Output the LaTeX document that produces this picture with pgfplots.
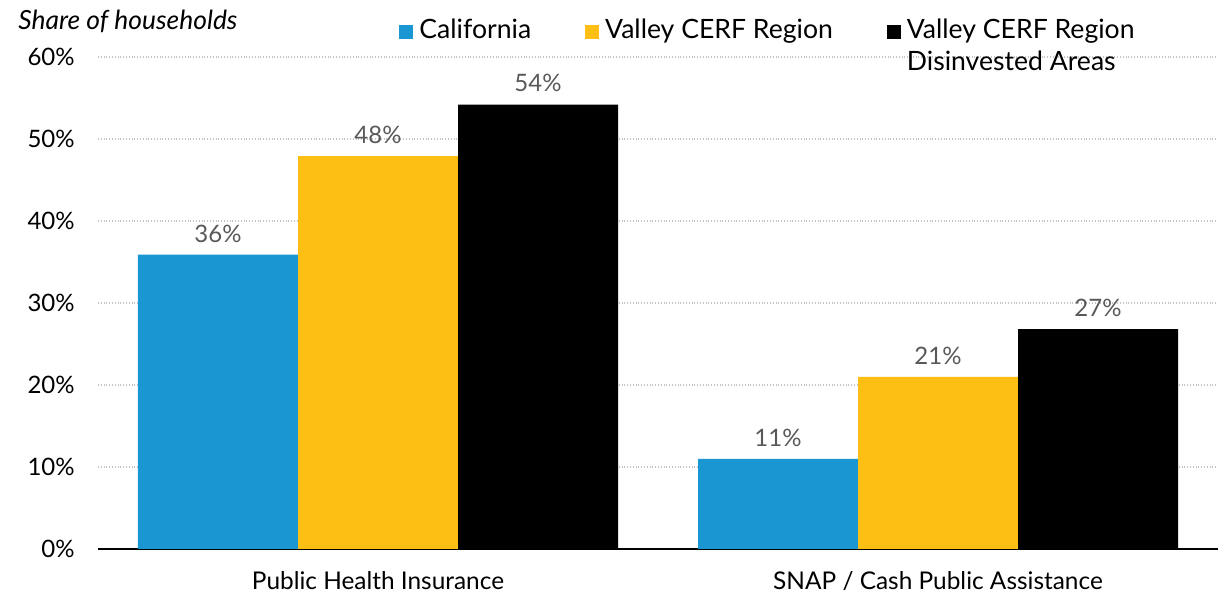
\documentclass[border=0pt]{standalone}
\usepackage{fontspec}
\setmainfont{Lato}
\usepackage{pgfplots}
\pgfplotsset{compat=1.18}
\usetikzlibrary{calc}
\definecolor{cablue}{RGB}{26,150,211}
\definecolor{cfyellow}{RGB}{253,191,20}
\definecolor{lblgray}{RGB}{89,89,89}
\definecolor{gridgray}{RGB}{195,195,195}

\begin{document}
\begin{tikzpicture}[font=\fontsize{12}{14.4}\selectfont]
\begin{axis}[
  scale only axis, width=560pt, height=246pt,
  xmin=-0.5, xmax=1.5, ymin=0, ymax=60,
  axis x line*=bottom, axis y line*=left,
  x axis line style={-, black, line width=1pt},
  y axis line style={draw=none},
  major tick length=0pt,
  ytick={0,10,20,30,40,50,60},
  yticklabels={0\%,10\%,20\%,30\%,40\%,50\%,60\%},
  yticklabel style={inner sep=0pt, xshift=-11.5pt},
  xtick={0,1},
  xticklabels={Public Health Insurance, SNAP / Cash Public Assistance},
  xticklabel style={inner sep=0pt, yshift=-11pt, font=\fontsize{12.2}{14.4}\selectfont},
  ymajorgrids,
  grid style={densely dotted, gridgray, line width=0.6pt},
  ybar, bar width=80pt,
  nodes near coords, point meta=explicit symbolic,
  nodes near coords style={text=lblgray, inner sep=0pt, anchor=south, yshift=6pt},
  legend columns=3,
  legend image code/.code={\fill[#1] (0pt,0pt) rectangle (7pt,7pt);},
  legend style={draw=none, fill=none, at={(0.2688,1)}, anchor=north west,
    yshift=21pt, inner sep=0pt, font=\fontsize{13.3}{16}\selectfont,
    cells={anchor=base west, inner sep=0pt},
    /tikz/every odd column/.append style={column sep=1pt},
    /tikz/every even column/.append style={column sep=25pt}},
]
\coordinate (O) at (rel axis cs:0,0);
\addplot[fill=cablue, draw=none, bar shift=-80pt] coordinates {(0,35.9)[36\%] (1,11.0)[11\%]};
\addlegendentry{California}
\addplot[fill=cfyellow, draw=none, bar shift=0pt] coordinates {(0,47.9)[48\%] (1,21.0)[21\%]};
\addlegendentry{Valley CERF Region}
\addplot[fill=black, draw=none, bar shift=80pt] coordinates {(0,54.2)[54\%] (1,26.8)[27\%]};
\addlegendentry{\vtop{\hbox{Valley CERF Region}\hbox{Disinvested Areas}}}
\end{axis}
\node[anchor=base west, inner sep=0pt, font=\fontsize{13.2}{15}\selectfont\itshape]
  at ($(O)+(-40pt,259.5pt)$) {Share of households};
\pgfresetboundingbox
\path[use as bounding box] ($(O)+(-49pt,-21.5pt)$) rectangle ($(O)+(560.5pt,274.5pt)$);
\end{tikzpicture}
\end{document}
